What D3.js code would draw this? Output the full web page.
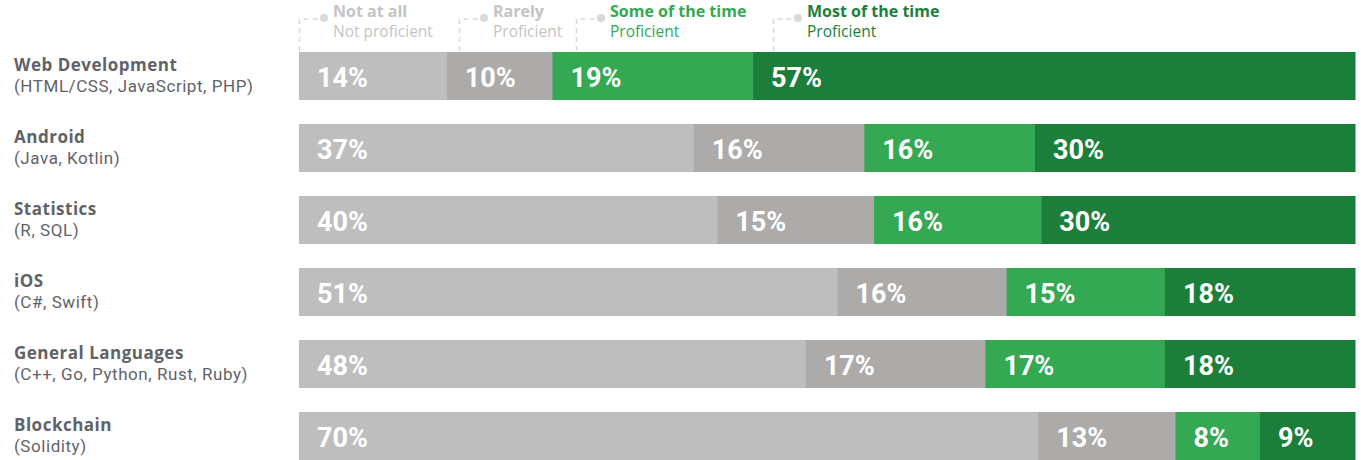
<!DOCTYPE html>
<html>
<head>
<meta charset="utf-8">
<script src="https://cdn.jsdelivr.net/npm/d3@7"></script>
<style>
  html, body { margin: 0; padding: 0; background: #fff; }
  svg { display: block; font-family: "Open Sans", Roboto, sans-serif; }
  .sub { font-family: Roboto, "Open Sans", sans-serif; }
  .val { font-family: Roboto, "Open Sans", sans-serif; }
</style>
</head>
<body>
<div id="chart"></div>
<script>
// data
const categories = ["Web Development", "Android", "Statistics", "iOS", "General Languages", "Blockchain"];
const subtitles = ["(HTML/CSS, JavaScript, PHP)", "(Java, Kotlin)", "(R, SQL)", "(C#, Swift)", "(C++, Go, Python, Rust, Ruby)", "(Solidity)"];
const notAtAll = [14, 37, 40, 51, 48, 70];
const rarely = [10, 16, 15, 16, 17, 13];
const someOfTheTime = [19, 16, 16, 15, 17, 8];
const mostOfTheTime = [57, 30, 30, 18, 18, 9];
const seriesNames = ["Not at all", "Rarely", "Some of the time", "Most of the time"];
const seriesSubs = ["Not proficient", "Proficient", "Proficient", "Proficient"];

const barColors = ["#bebebe", "#adabaa", "#34a853", "#1b7f3b"];
const legendColors = ["#c4c4c4", "#c4c4c4", "#34a853", "#1b7f3b"];

const width = 1361, height = 460;
const margin = { top: 52, left: 299, right: 6 };

const svg = d3.select("#chart").append("svg")
    .attr("width", width)
    .attr("height", height);

const series = [notAtAll, rarely, someOfTheTime, mostOfTheTime];
const rows = categories.map((c, i) => {
    const vals = series.map(s => s[i]);
    let acc = 0;
    const segs = vals.map((v, k) => {
        const seg = { key: k, value: v, x0: acc, x1: acc + v };
        acc += v;
        return seg;
    });
    return { name: c, sub: subtitles[i], segs: segs, total: acc };
});

const yScale = d3.scaleBand()
    .domain(categories)
    .range([margin.top, height])
    .paddingInner(1 / 3)
    .paddingOuter(0)
    .align(0);

const bh = yScale.bandwidth();

const rowG = svg.selectAll("g.row")
    .data(rows)
    .enter()
    .append("g")
    .attr("class", "row")
    .attr("transform", d => `translate(0, ${yScale(d.name)})`);

// category labels
rowG.append("text")
    .attr("x", 14)
    .attr("y", bh / 2 - 5)
    .attr("fill", "#5f6368")
    .style("font-size", "17px")
    .style("font-weight", 700)
    .style("letter-spacing", "0.5px")
    .text(d => d.name);

rowG.append("text")
    .attr("class", "sub")
    .attr("x", 14)
    .attr("y", bh / 2 + 16)
    .attr("fill", "#5f6368")
    .style("font-size", "17px")
    .style("letter-spacing", "0.55px")
    .text(d => d.sub);

// each row is normalized to its own total
rowG.each(function (d) {
    const xScale = d3.scaleLinear()
        .domain([0, d.total])
        .range([margin.left, width - margin.right]);

    const g = d3.select(this);
    g.selectAll("rect")
        .data(d.segs)
        .enter()
        .append("rect")
        .attr("x", s => xScale(s.x0))
        .attr("width", s => xScale(s.x1) - xScale(s.x0) + 0.5)
        .attr("y", 0)
        .attr("height", bh)
        .attr("fill", s => barColors[s.key]);

    g.selectAll("text.val")
        .data(d.segs)
        .enter()
        .append("text")
        .attr("class", "val")
        .attr("x", s => xScale(s.x0) + 18)
        .attr("y", bh / 2 + 11)
        .attr("fill", "#fff")
        .style("font-size", "27px")
        .style("font-weight", 700)
        .text(s => s.value + "%");
});

// legend
const legendX = [299, 459, 576, 773];
const legend = svg.selectAll("g.legend")
    .data(seriesNames)
    .enter()
    .append("g")
    .attr("class", "legend")
    .attr("transform", (d, i) => `translate(${legendX[i]}, 0)`);

legend.append("path")
    .attr("d", "M0.5,51 V19 H20")
    .attr("fill", "none")
    .attr("stroke", "#d9d9d9")
    .attr("stroke-width", 1.5)
    .attr("stroke-dasharray", "5,4");

legend.append("circle")
    .attr("cx", 25)
    .attr("cy", 18)
    .attr("r", 4)
    .attr("fill", "#d9d9d9");

legend.append("text")
    .attr("x", 34)
    .attr("y", 17)
    .attr("fill", (d, i) => legendColors[i])
    .style("font-size", "16px")
    .style("font-weight", 700)
    .text(d => d);

legend.append("text")
    .attr("x", 34)
    .attr("y", 37)
    .attr("fill", (d, i) => legendColors[i])
    .style("font-size", "15.5px")
    .text((d, i) => seriesSubs[i]);
</script>
</body>
</html>
